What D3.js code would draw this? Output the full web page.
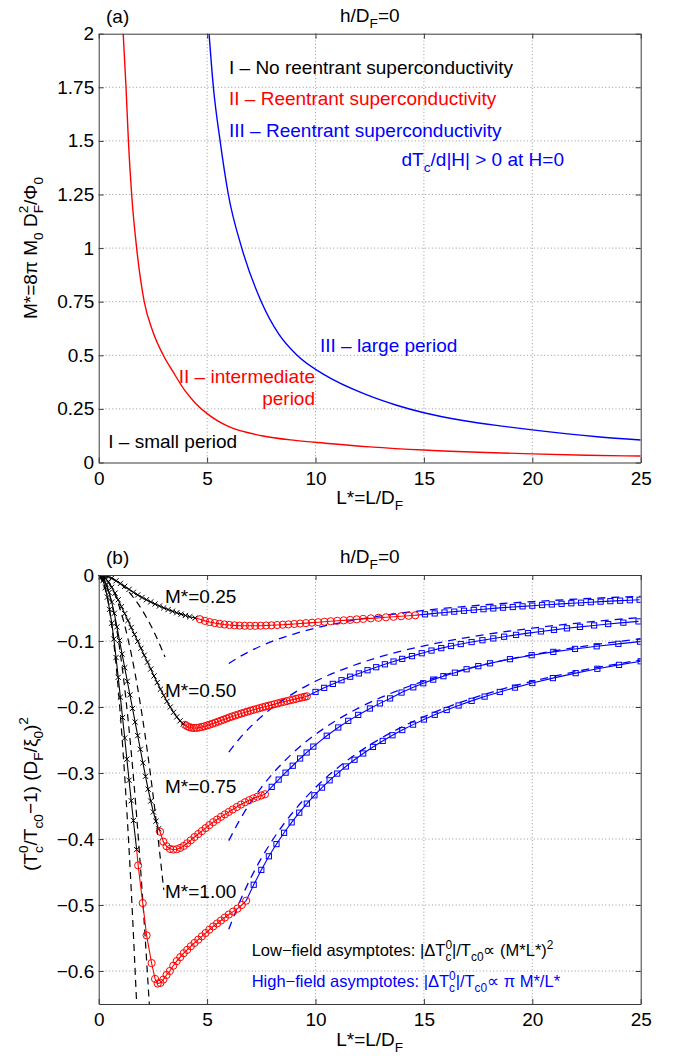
<!DOCTYPE html>
<html>
<head>
<meta charset="utf-8">
<script src="https://cdn.jsdelivr.net/npm/d3@7"></script>
<style>
  html, body { margin: 0; padding: 0; background: #fff; }
  svg { display: block; font-family: "Liberation Sans", Arial, Helvetica, sans-serif; }
  text { white-space: pre; }
</style>
</head>
<body>
<svg id="chart" width="677" height="1059"></svg>
<script>
// ---------------- DATA ----------------
const xTicks = [0, 5, 10, 15, 20, 25];
const yTicksA = [0, 0.25, 0.5, 0.75, 1, 1.25, 1.5, 1.75, 2];
const yTickLabelsA = ["0", "0.25", "0.5", "0.75", "1", "1.25", "1.5", "1.75", "2"];
const yTicksB = [-0.6, -0.5, -0.4, -0.3, -0.2, -0.1, 0];
const yTickLabelsB = ["\u22120.6", "\u22120.5", "\u22120.4", "\u22120.3", "\u22120.2", "\u22120.1", "0"];

// Panel (a): regime boundaries [L*, M*]
const boundaryII = [[1.13,2.0],[1.26,1.75],[1.37,1.5],[1.52,1.25],[1.75,1.0],[2.1,0.75],[2.5,0.61],[2.98,0.5],[3.44,0.421],[3.98,0.335],[4.45,0.278],[5.0,0.228],[5.98,0.168],[7.52,0.125],[9.06,0.103],[10.44,0.09],[12.5,0.073],[15,0.058],[17.5,0.048],[20,0.04],[22.5,0.034],[25,0.03]];
const boundaryIII = [[5.09,2.0],[5.29,1.75],[5.6,1.5],[5.98,1.25],[6.6,1.0],[7.5,0.75],[8.3,0.6],[9.1,0.505],[10.5,0.404],[12.2,0.322],[13.74,0.267],[15,0.232],[16.8,0.196],[18.5,0.171],[20,0.152],[23,0.12],[25,0.105]];

// Panel (b): [L*, (Tc/Tc0-1)(DF/xi0)^2]; x = low-field branch, o = intermediate, s = high-field
const m025_x = [[0,0],[0.15,-0.0003],[0.3,-0.0012],[0.45,-0.0027],[0.6,-0.0048],[0.8,-0.0088],[1.0,-0.0128],[1.2,-0.0172],[1.4,-0.0218],[1.6,-0.0262],[1.8,-0.0302],[2.0,-0.0340],[2.2,-0.0375],[2.4,-0.0408],[2.6,-0.0440],[2.8,-0.0470],[3.0,-0.0498],[3.2,-0.0524],[3.4,-0.0549],[3.6,-0.0572],[3.8,-0.0593],[4.0,-0.0613],[4.2,-0.0632],[4.45,-0.0652]];
const m025_o = [[4.67,-0.0670],[4.9,-0.0695],[5.12,-0.0713],[5.35,-0.0728],[5.58,-0.0740],[5.8,-0.0750],[6.03,-0.0757],[6.26,-0.0763],[6.5,-0.0767],[6.74,-0.0769],[6.98,-0.0770],[7.22,-0.0770],[7.47,-0.0768],[7.72,-0.0765],[7.97,-0.0762],[8.23,-0.0758],[8.49,-0.0753],[8.75,-0.0748],[9.02,-0.0742],[9.29,-0.0736],[9.56,-0.0729],[9.84,-0.0722],[10.12,-0.0715],[10.41,-0.0708],[10.7,-0.0701],[11.0,-0.0694],[11.3,-0.0687],[11.6,-0.0680],[11.9,-0.0672],[12.2,-0.0665],[12.55,-0.0657],[12.9,-0.0649],[13.25,-0.0641],[13.6,-0.0633],[13.95,-0.0625],[14.3,-0.0618],[14.6,-0.0611]];
const m025_s = [[15.05,-0.0596],[15.5,-0.0582],[15.95,-0.0568],[16.4,-0.0555],[16.85,-0.0542],[17.3,-0.0530],[17.75,-0.0518],[18.2,-0.0506],[18.65,-0.0495],[19.1,-0.0485],[19.55,-0.0475],[20.0,-0.0465],[20.45,-0.0455],[20.9,-0.0446],[21.35,-0.0437],[21.8,-0.0428],[22.25,-0.0420],[22.7,-0.0412],[23.15,-0.0404],[23.6,-0.0396],[24.05,-0.0389],[24.5,-0.0382],[24.95,-0.0375]];

const m050_x = [[0,0],[0.15,-0.0012],[0.3,-0.0048],[0.45,-0.0105],[0.6,-0.0185],[0.75,-0.0275],[0.9,-0.0375],[1.05,-0.048],[1.2,-0.0585],[1.35,-0.069],[1.5,-0.0795],[1.65,-0.09],[1.8,-0.1005],[1.95,-0.111],[2.1,-0.1215],[2.25,-0.132],[2.4,-0.1425],[2.55,-0.153],[2.7,-0.163],[2.85,-0.173],[3.0,-0.1825],[3.15,-0.1915],[3.3,-0.2],[3.45,-0.208],[3.6,-0.215],[3.75,-0.221],[3.9,-0.2255]];
const m050_o = [[3.98,-0.2270],[4.08,-0.2290],[4.18,-0.2305],[4.29,-0.2315],[4.4,-0.2318],[4.52,-0.2316],[4.64,-0.2310],[4.76,-0.2302],[4.88,-0.2292],[5.0,-0.2280],[5.12,-0.2267],[5.25,-0.2253],[5.38,-0.2238],[5.51,-0.2222],[5.64,-0.2206],[5.77,-0.2190],[5.9,-0.2174],[6.03,-0.2158],[6.16,-0.2143],[6.3,-0.2128],[6.44,-0.2113],[6.58,-0.2098],[6.72,-0.2084],[6.86,-0.2070],[7.0,-0.2056],[7.14,-0.2043],[7.28,-0.2030],[7.42,-0.2017],[7.56,-0.2004],[7.7,-0.1992],[7.84,-0.1980],[7.98,-0.1968],[8.12,-0.1956],[8.26,-0.1944],[8.4,-0.1932],[8.54,-0.1921],[8.68,-0.1910],[8.82,-0.1899],[8.96,-0.1888],[9.1,-0.1877],[9.24,-0.1866],[9.38,-0.1855],[9.5,-0.1846],[9.6,-0.1838]];
const m050_s = [[10.0,-0.1772],[10.4,-0.1710],[10.8,-0.1650],[11.2,-0.1594],[11.6,-0.1541],[12.0,-0.1491],[12.4,-0.1443],[12.8,-0.1397],[13.2,-0.1353],[13.6,-0.1311],[14.0,-0.1271],[14.45,-0.1229],[14.9,-0.1185],[15.35,-0.1145],[15.8,-0.1108],[16.25,-0.1075],[16.7,-0.1046],[17.2,-0.1016],[17.7,-0.0988],[18.2,-0.0961],[18.7,-0.0935],[19.25,-0.0907],[19.8,-0.0881],[20.4,-0.0855],[21.0,-0.0831],[21.6,-0.0808],[22.2,-0.0786],[22.85,-0.0764],[23.5,-0.0743],[24.2,-0.0722],[24.9,-0.0703]];

const m075_x = [[0,0],[0.12,-0.0017],[0.24,-0.0068],[0.36,-0.015],[0.48,-0.0265],[0.6,-0.041],[0.72,-0.058],[0.84,-0.0786],[0.96,-0.0992],[1.08,-0.1198],[1.2,-0.1404],[1.32,-0.161],[1.44,-0.1816],[1.56,-0.2022],[1.68,-0.2228],[1.8,-0.2434],[1.92,-0.264],[2.04,-0.2846],[2.16,-0.305],[2.28,-0.3245],[2.4,-0.3425],[2.52,-0.359],[2.64,-0.373],[2.76,-0.3845]];
const m075_o = [[2.83,-0.389],[2.98,-0.404],[3.13,-0.411],[3.29,-0.415],[3.44,-0.416],[3.6,-0.4155],[3.76,-0.4135],[3.92,-0.4105],[4.08,-0.4065],[4.25,-0.402],[4.42,-0.397],[4.59,-0.3925],[4.76,-0.388],[4.93,-0.3835],[5.1,-0.379],[5.28,-0.3745],[5.46,-0.3705],[5.64,-0.3665],[5.82,-0.3627],[6.0,-0.359],[6.18,-0.3553],[6.37,-0.3515],[6.56,-0.3478],[6.75,-0.3443],[6.94,-0.3412],[7.13,-0.3384],[7.32,-0.336],[7.5,-0.334],[7.67,-0.3322]];
const m075_s = [[7.98,-0.321],[8.3,-0.31],[8.62,-0.2995],[8.95,-0.289],[9.29,-0.278],[9.59,-0.269],[9.9,-0.26],[10.52,-0.2435],[11.05,-0.231],[11.51,-0.221],[11.97,-0.212],[12.51,-0.2023],[12.97,-0.1945],[13.44,-0.187],[13.97,-0.1781],[14.51,-0.1702],[14.97,-0.164],[15.43,-0.1585],[15.9,-0.1533],[16.43,-0.148],[16.97,-0.1428],[17.51,-0.1381],[18.05,-0.1338],[18.97,-0.1275],[19.97,-0.1215],[20.97,-0.1165],[21.97,-0.112],[22.97,-0.108],[23.97,-0.1043],[24.97,-0.101]];

const m100_x = [[0,0],[0.1,-0.002],[0.2,-0.0085],[0.3,-0.019],[0.4,-0.0335],[0.5,-0.052],[0.6,-0.073],[0.7,-0.097],[0.8,-0.125],[0.9,-0.155],[1.0,-0.185],[1.1,-0.216],[1.2,-0.247],[1.3,-0.279],[1.4,-0.311],[1.5,-0.342],[1.6,-0.372],[1.75,-0.416]];
const m100_o = [[1.82,-0.44],[2.03,-0.497],[2.21,-0.546],[2.44,-0.588],[2.6,-0.612],[2.72,-0.619],[2.85,-0.618],[2.98,-0.613],[3.13,-0.606],[3.28,-0.6],[3.44,-0.592],[3.6,-0.585],[3.76,-0.579],[3.92,-0.573],[4.08,-0.568],[4.25,-0.5625],[4.42,-0.5575],[4.59,-0.5525],[4.76,-0.5475],[4.93,-0.5425],[5.1,-0.5375],[5.28,-0.5325],[5.46,-0.528],[5.64,-0.5235],[5.82,-0.519],[6.0,-0.5145],[6.2,-0.51],[6.4,-0.5055],[6.6,-0.5],[6.8,-0.4935]];
const m100_s = [[7.15,-0.4693],[7.5,-0.4468],[7.85,-0.4262],[8.2,-0.4077],[8.55,-0.3906],[8.9,-0.3748],[9.25,-0.3601],[9.6,-0.3464],[9.95,-0.3338],[10.3,-0.3221],[10.65,-0.3111],[11.0,-0.3009],[11.4,-0.2901],[11.8,-0.2799],[12.2,-0.2704],[12.65,-0.2605],[13.1,-0.2514],[13.55,-0.2428],[14.0,-0.2349],[14.5,-0.2267],[15.0,-0.219],[15.5,-0.2118],[16.05,-0.2045],[16.6,-0.1977],[17.2,-0.1907],[17.8,-0.1842],[18.5,-0.1772],[19.2,-0.1706],[20.0,-0.1637],[20.95,-0.1562],[22.0,-0.1487],[23.0,-0.1421],[24.0,-0.1362],[25.0,-0.1307]];

// asymptotes (dashed)
const low025 = [[0,0],[0.5,-0.0033],[1,-0.0133],[1.5,-0.0298],[2,-0.053],[2.5,-0.0828],[3.06,-0.1241]];
const low050 = [[0,0],[0.5,-0.0133],[1,-0.053],[1.5,-0.1193],[2,-0.212],[2.5,-0.3313],[3.0,-0.477]];
const low075 = [[0,0],[0.5,-0.0298],[1,-0.1193],[1.5,-0.2684],[2,-0.4772],[2.334,-0.65]];
const low100 = [[0,0],[0.5,-0.053],[1,-0.212],[1.25,-0.3313],[1.5,-0.477],[1.751,-0.65]];
const high025 = [[6,-0.1342],[6.5,-0.1238],[7,-0.115],[7.5,-0.1073],[8,-0.1006],[9,-0.0894],[10,-0.0805],[11,-0.0732],[12,-0.0671],[13,-0.0619],[14,-0.0575],[16,-0.0503],[18,-0.0447],[20,-0.0403],[22,-0.0366],[25,-0.0322]];
const high050 = [[6,-0.2683],[6.5,-0.2477],[7,-0.23],[7.5,-0.2147],[8,-0.2013],[9,-0.1789],[10,-0.161],[11,-0.1464],[12,-0.1342],[13,-0.1238],[14,-0.115],[16,-0.1006],[18,-0.0894],[20,-0.0805],[22,-0.0732],[25,-0.0644]];
const high075 = [[6,-0.4025],[6.5,-0.3715],[7,-0.345],[7.5,-0.322],[8,-0.3019],[9,-0.2683],[10,-0.2415],[11,-0.2195],[12,-0.2013],[13,-0.1858],[14,-0.1725],[16,-0.1509],[18,-0.1342],[20,-0.1208],[22,-0.1098],[25,-0.0966]];
const high100 = [[6,-0.5367],[6.5,-0.4954],[7,-0.46],[7.5,-0.4293],[8,-0.4025],[9,-0.3578],[10,-0.322],[11,-0.2927],[12,-0.2683],[13,-0.2477],[14,-0.23],[16,-0.2013],[18,-0.1789],[20,-0.161],[22,-0.1464],[25,-0.1288]];

const curveLabels = ["M*=0.25", "M*=0.50", "M*=0.75", "M*=1.00"];

// ---------------- DRAWING ----------------
const svg = d3.select("#chart");
svg.append("rect").attr("width", 677).attr("height", 1059).attr("fill", "#fff");

const RED = "#ff0000", BLUE = "#0000ff", BLACK = "#000000", FRAME = "#3a3a3a", GRID = "#8c8c8c";

function rich(parent, x, y, parts, opt) {
  opt = opt || {};
  const fs = opt.fs || 19;
  const t = parent.append("text").attr("x", x).attr("y", y)
    .attr("fill", opt.color || "#000").style("font-size", fs + "px")
    .attr("text-anchor", opt.anchor || "start");
  if (opt.transform) t.attr("transform", opt.transform);
  const sfs = fs * 0.72, subD = fs * 0.32, supD = -fs * 0.45;
  let off = 0, pendingDx = 0;
  for (const p of parts) {
    if (typeof p === "string") {
      t.append("tspan").attr("dy", -off).attr("dx", pendingDx).text(p);
      off = 0; pendingDx = 0;
    } else {
      let sb = null, wb = 0;
      if (p.b != null) {
        sb = t.append("tspan").attr("dy", subD - off).attr("dx", pendingDx).style("font-size", sfs + "px").text(p.b);
        off = subD; pendingDx = 0;
        wb = sb.node().getComputedTextLength();
      }
      if (p.p != null) {
        const dx = sb ? -wb : pendingDx;
        const sp = t.append("tspan").attr("dy", supD - off).attr("dx", dx).style("font-size", sfs + "px").text(p.p);
        off = supD; pendingDx = 0;
        if (sb) { const wp = sp.node().getComputedTextLength(); if (wb > wp) pendingDx = wb - wp; }
      }
    }
  }
  return t;
}

function panel(y0, y1, yDomain, yTicks, yLabels, id) {
  const x = d3.scaleLinear().domain([0, 25]).range([98.7, 640.7]);
  const y = d3.scaleLinear().domain(yDomain).range([y1, y0]);
  const g = svg.append("g");
  const grid = g.append("g").attr("stroke", GRID).attr("stroke-width", 0.9).attr("stroke-dasharray", "1,2.4");
  xTicks.slice(1, -1).forEach(v => grid.append("line").attr("x1", x(v)).attr("x2", x(v)).attr("y1", y0).attr("y2", y1));
  yTicks.forEach(v => { if (v !== yDomain[0] && v !== yDomain[1]) grid.append("line").attr("x1", x(0)).attr("x2", x(25)).attr("y1", y(v)).attr("y2", y(v)); });
  svg.append("clipPath").attr("id", id).append("rect")
    .attr("x", x(0)).attr("y", y0).attr("width", x(25) - x(0)).attr("height", y1 - y0);
  const plot = g.append("g").attr("clip-path", "url(#" + id + ")");
  const styleAxis = sel => {
    sel.attr("font-size", null).attr("font-family", null);
    sel.selectAll(".domain").attr("stroke", FRAME).attr("stroke-width", 1);
    sel.selectAll(".tick line").attr("stroke", FRAME).attr("stroke-width", 1);
    sel.selectAll(".tick text").attr("fill", "#000").style("font-size", "19px");
  };
  g.append("g").attr("transform", `translate(0,${y1})`)
    .call(d3.axisBottom(x).tickValues(xTicks).tickFormat(d3.format("d")).tickSizeInner(-5).tickSizeOuter(0).tickPadding(9)).call(styleAxis);
  g.append("g").attr("transform", `translate(0,${y0})`)
    .call(d3.axisTop(x).tickValues(xTicks).tickFormat("").tickSizeInner(-5).tickSizeOuter(0)).call(styleAxis);
  g.append("g").attr("transform", `translate(${x(0)},0)`)
    .call(d3.axisLeft(y).tickValues(yTicks).tickFormat((d, i) => yLabels[i]).tickSizeInner(-5).tickSizeOuter(0).tickPadding(4.5)).call(styleAxis);
  g.append("g").attr("transform", `translate(${x(25)},0)`)
    .call(d3.axisRight(y).tickValues(yTicks).tickFormat("").tickSizeInner(-5).tickSizeOuter(0)).call(styleAxis);
  return { x, y, g, plot };
}

// ---------- Panel (a) ----------
const A = panel(33.7, 462.5, [0, 2], yTicksA, yTickLabelsA, "clipA");
const lineA = d3.line().x(d => A.x(d[0])).y(d => A.y(d[1])).curve(d3.curveMonotoneX);
A.plot.append("path").datum(boundaryII).attr("d", lineA).attr("fill", "none").attr("stroke", RED).attr("stroke-width", 1.4);
A.plot.append("path").datum(boundaryIII).attr("d", lineA).attr("fill", "none").attr("stroke", BLUE).attr("stroke-width", 1.4);

rich(svg, 106, 23, ["(a)"]);
rich(svg, 340, 22, ["h/D", { b: "F" }, "=0"]);
rich(svg, 229, 74, ["I \u2013 No reentrant superconductivity"], { color: BLACK });
rich(svg, 229, 105, ["II \u2013 Reentrant superconductivity"], { color: RED });
rich(svg, 229, 137, ["III \u2013 Reentrant superconductivity"], { color: BLUE });
rich(svg, 401.5, 165.5, ["dT", { b: "c" }, "/d|H| > 0 at H=0"], { color: BLUE });
rich(svg, 320, 351.5, ["III \u2013 large period"], { color: BLUE });
rich(svg, 315, 383.3, ["II \u2013 intermediate"], { color: RED, anchor: "end" });
rich(svg, 315, 405, ["period"], { color: RED, anchor: "end" });
rich(svg, 108.3, 448.3, ["I \u2013 small period"], { color: BLACK });
rich(svg, 0, 0, ["M*=8\u03c0 M", { b: "0" }, " D", { b: "F", p: "2" }, "/\u03a6", { b: "0" }], { anchor: "middle", transform: "translate(37,248) rotate(-90)" });
rich(svg, 369.7, 504, ["L*=L/D", { b: "F" }], { anchor: "middle" });

// ---------- Panel (b) ----------
const B = panel(575, 1004, [-0.65, 0], yTicksB, yTickLabelsB, "clipB");
const lineB = d3.line().x(d => B.x(d[0])).y(d => B.y(d[1])).curve(d3.curveMonotoneX);
const lineBlin = d3.line().x(d => B.x(d[0])).y(d => B.y(d[1]));

[low025, low050, low075, low100].forEach(arr =>
  B.plot.append("path").datum(arr).attr("d", lineB).attr("fill", "none").attr("stroke", BLACK).attr("stroke-width", 1.2).attr("stroke-dasharray", "7,5"));
[high025, high050, high075, high100].forEach(arr =>
  B.plot.append("path").datum(arr).attr("d", lineB).attr("fill", "none").attr("stroke", BLUE).attr("stroke-width", 1.3).attr("stroke-dasharray", "8,6"));

const series = [[m025_x, m025_o, m025_s], [m050_x, m050_o, m050_s], [m075_x, m075_o, m075_s], [m100_x, m100_o, m100_s]];
series.forEach(([bx, bo, bs]) => {
  B.plot.append("path").datum(bx).attr("d", lineBlin).attr("fill", "none").attr("stroke", BLACK).attr("stroke-width", 1.1);
  B.plot.append("path").datum([bx[bx.length - 1]].concat(bo)).attr("d", lineBlin).attr("fill", "none").attr("stroke", RED).attr("stroke-width", 1.1);
  B.plot.append("path").datum([bo[bo.length - 1]].concat(bs)).attr("d", lineBlin).attr("fill", "none").attr("stroke", BLUE).attr("stroke-width", 1.1);
  const s = 2.6;
  B.plot.append("g").selectAll("path").data(bx).join("path")
    .attr("d", d => { const X = B.x(d[0]), Y = B.y(d[1]); return `M${X - s},${Y - s}L${X + s},${Y + s}M${X - s},${Y + s}L${X + s},${Y - s}`; })
    .attr("stroke", BLACK).attr("stroke-width", 1).attr("fill", "none");
  B.plot.append("g").selectAll("circle").data(bo).join("circle")
    .attr("cx", d => B.x(d[0])).attr("cy", d => B.y(d[1])).attr("r", 3.6)
    .attr("stroke", RED).attr("stroke-width", 1).attr("fill", "none");
  B.plot.append("g").selectAll("rect").data(bs).join("rect")
    .attr("x", d => B.x(d[0]) - 2.6).attr("y", d => B.y(d[1]) - 2.6).attr("width", 5.2).attr("height", 5.2)
    .attr("stroke", BLUE).attr("stroke-width", 1).attr("fill", "none");
});

rich(svg, 106, 564, ["(b)"]);
rich(svg, 340, 563, ["h/D", { b: "F" }, "=0"]);
const labelY = [603, 696.5, 793, 898];
curveLabels.forEach((t, i) => rich(svg, 165, labelY[i], [t]));
rich(svg, 251.7, 956, ["Low\u2212field asymptotes: |\u0394T", { b: "c", p: "0" }, "|/T", { b: "c0" }, "\u221d (M*L*)", { p: "2" }], { fs: 16.5 });
rich(svg, 251.7, 987, ["High\u2212field asymptotes: |\u0394T", { b: "c", p: "0" }, "|/T", { b: "c0" }, "\u221d \u03c0 M*/L*"], { fs: 16.5, color: BLUE });
rich(svg, 0, 0, ["(T", { b: "c", p: "0" }, "/T", { b: "c0" }, "\u22121) (D", { b: "F" }, "/\u03be", { b: "0" }, ")", { p: "2" }], { anchor: "middle", transform: "translate(37,794) rotate(-90)" });
rich(svg, 369.7, 1046, ["L*=L/D", { b: "F" }], { anchor: "middle" });
</script>
</body>
</html>
